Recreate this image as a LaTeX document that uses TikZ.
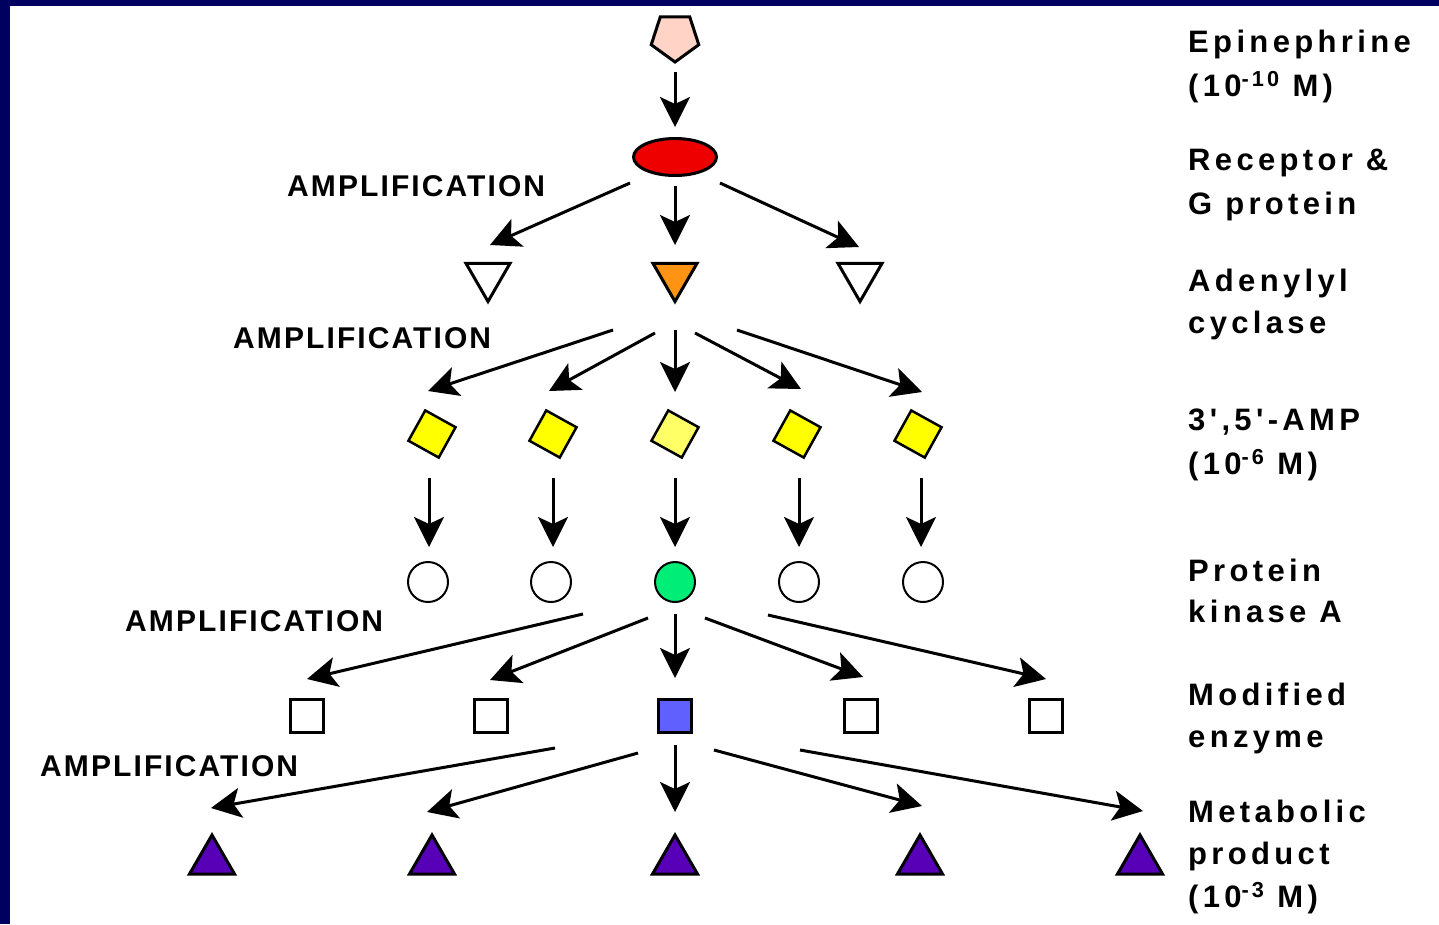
\documentclass[tikz,border=0pt]{standalone}
\usepackage{fontspec}
\setmainfont{Liberation Sans}
\newfontfamily\lblfont{Liberation Sans}[LetterSpace=14]
\newfontfamily\ampfont{Liberation Sans}[LetterSpace=7]
\usetikzlibrary{arrows.meta,shapes.geometric}
\definecolor{navy}{HTML}{000060}
\definecolor{peach}{HTML}{FFD4C6}
\definecolor{recred}{HTML}{EE0000}
\definecolor{cycorange}{HTML}{FF9414}
\definecolor{ampyellow}{HTML}{FFFF00}
\definecolor{ampmain}{HTML}{FFFF66}
\definecolor{pkagreen}{HTML}{00EE77}
\definecolor{enzblue}{HTML}{6060FF}
\definecolor{prodpurple}{HTML}{5800B8}
\begin{document}
\begin{tikzpicture}[x=1pt,y=-1pt,
  arr/.style={line width=3pt,-{Stealth[length=30pt,width=30pt,inset=7pt]}},
  shp/.style={draw,line width=3pt,inner sep=0pt,outer sep=0pt},
  cyc/.style={shp,regular polygon,regular polygon sides=3,shape border rotate=180,minimum size=51pt},
  camp/.style={shp,line width=2.5pt,regular polygon,regular polygon sides=4,rotate=-29,minimum size=49pt,fill=ampyellow},
  pka/.style={shp,line width=2pt,circle,minimum size=40pt},
  enz/.style={shp,rectangle,minimum size=33pt},
  prod/.style={shp,regular polygon,regular polygon sides=3,minimum size=52pt,fill=prodpurple},
  lbl/.style={anchor=base west,inner sep=0pt,font=\lblfont\fontsize{31pt}{36pt}\selectfont\bfseries},
  amp/.style={anchor=base west,inner sep=0pt,font=\ampfont\fontsize{30pt}{35pt}\selectfont\bfseries}]
% page and frame
\useasboundingbox (0,0) rectangle (1439,924);
\fill[white] (0,0) rectangle (1439,924);
\fill[navy] (0,0) rectangle (1439,6);
\fill[navy] (0,0) rectangle (10,924);

% cascade members
\node[shp,regular polygon,regular polygon sides=5,shape border rotate=180,minimum size=50pt,fill=peach] (epi) at (675,37) {};
\node[shp,ellipse,minimum width=83pt,minimum height=37pt,fill=recred] (rec) at (675,157) {};

\node[cyc,fill=white] (cyc1) at (488,276) {};
\node[cyc,fill=cycorange] (cyc2) at (675,276) {};
\node[cyc,fill=white] (cyc3) at (860,276) {};

\node[camp] (camp1) at (432,434) {};
\node[camp] (camp2) at (553,434) {};
\node[camp,fill=ampmain] (camp3) at (675,434) {};
\node[camp] (camp4) at (797,434) {};
\node[camp] (camp5) at (918,434) {};

\node[pka] (pka1) at (428,582) {};
\node[pka] (pka2) at (551,582) {};
\node[pka,fill=pkagreen] (pka3) at (675,582) {};
\node[pka] (pka4) at (799,582) {};
\node[pka] (pka5) at (923,582) {};

\node[enz] (enz1) at (307,716) {};
\node[enz] (enz2) at (491,716) {};
\node[enz,fill=enzblue] (enz3) at (675,716) {};
\node[enz] (enz4) at (861,716) {};
\node[enz] (enz5) at (1046,716) {};

\node[prod] (prod1) at (212,861) {};
\node[prod] (prod2) at (432,861) {};
\node[prod] (prod3) at (675,861) {};
\node[prod] (prod4) at (920,861) {};
\node[prod] (prod5) at (1140,861) {};

% arrow ends
\coordinate (p0s) at (675,72);   \coordinate (p0t) at (675,127);
\coordinate (a1s) at (630,183);  \coordinate (a1t) at (490,245);
\coordinate (a2s) at (675,186);  \coordinate (a2t) at (675,245);
\coordinate (a3s) at (720,183);  \coordinate (a3t) at (859,247);
\coordinate (b1s) at (613,330);  \coordinate (b1t) at (428,391);
\coordinate (b2s) at (655,333);  \coordinate (b2t) at (549,391);
\coordinate (b3s) at (675,330);  \coordinate (b3t) at (675,392);
\coordinate (b4s) at (695,333);  \coordinate (b4t) at (801,389);
\coordinate (b5s) at (737,330);  \coordinate (b5t) at (922,392);
\coordinate (c1s) at (429,478);  \coordinate (c1t) at (429,547);
\coordinate (c2s) at (553,478);  \coordinate (c2t) at (553,547);
\coordinate (c3s) at (675,478);  \coordinate (c3t) at (675,547);
\coordinate (c4s) at (799,478);  \coordinate (c4t) at (799,547);
\coordinate (c5s) at (921,478);  \coordinate (c5t) at (921,547);
\coordinate (d1s) at (583,614);  \coordinate (d1t) at (307,679);
\coordinate (d2s) at (648,618);  \coordinate (d2t) at (490,680);
\coordinate (d3s) at (675,614);  \coordinate (d3t) at (675,678);
\coordinate (d4s) at (705,618);  \coordinate (d4t) at (863,677);
\coordinate (d5s) at (768,615);  \coordinate (d5t) at (1046,679);
\coordinate (e1s) at (555,748);  \coordinate (e1t) at (211,808);
\coordinate (e2s) at (638,753);  \coordinate (e2t) at (427,812);
\coordinate (e3s) at (675,745);  \coordinate (e3t) at (675,812);
\coordinate (e4s) at (714,750);  \coordinate (e4t) at (922,806);
\coordinate (e5s) at (800,750);  \coordinate (e5t) at (1143,811);

\foreach \n in {p0,a1,a2,a3,b1,b2,b3,b4,b5,c1,c2,c3,c4,c5,d1,d2,d3,d4,d5,e1,e2,e3,e4,e5}
  \draw[arr] (\n s) -- (\n t);

% amplification labels
\node[amp] (amp1) at (287,196) {AMPLIFICATION};
\node[amp] (amp2) at (233,348) {AMPLIFICATION};
\node[amp] (amp3) at (125,631) {AMPLIFICATION};
\node[amp] (amp4) at (40,776) {AMPLIFICATION};

% stage names
\node[lbl] (l1a) at (1188,52)  {Epinephrine};
\node[lbl] (l1b) at (1188,96)  {(10\textsuperscript{-10} M)};
\node[lbl] (l2a) at (1188,170) {Receptor \&};
\node[lbl] (l2b) at (1188,214) {G protein};
\node[lbl] (l3a) at (1188,291) {Adenylyl};
\node[lbl] (l3b) at (1188,333) {cyclase};
\node[lbl] (l4a) at (1188,430) {3',5'-AMP};
\node[lbl] (l4b) at (1188,474) {(10\textsuperscript{-6} M)};
\node[lbl] (l5a) at (1188,581) {Protein};
\node[lbl] (l5b) at (1188,622) {kinase A};
\node[lbl] (l6a) at (1188,705) {Modified};
\node[lbl] (l6b) at (1188,747) {enzyme};
\node[lbl] (l7a) at (1188,822) {Metabolic};
\node[lbl] (l7b) at (1188,864) {product};
\node[lbl] (l7c) at (1188,907) {(10\textsuperscript{-3} M)};
\end{tikzpicture}
\end{document}
